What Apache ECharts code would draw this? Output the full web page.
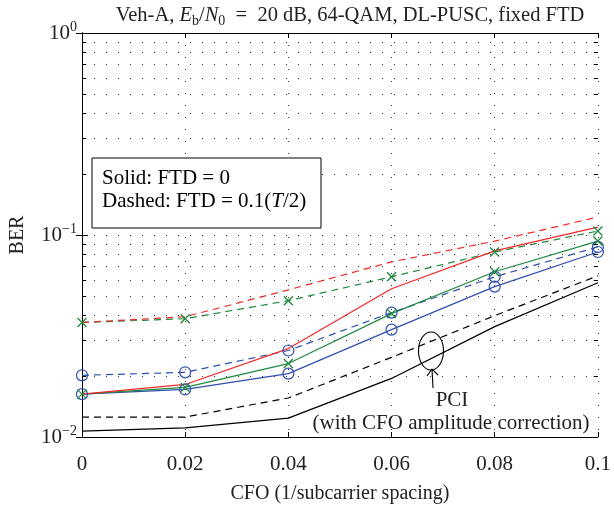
<!DOCTYPE html>
<html>
<head>
<meta charset="utf-8">
<script src="https://cdn.jsdelivr.net/npm/echarts@6/dist/echarts.min.js"></script>
<style>html,body{margin:0;padding:0;background:#fff}#c{width:614px;height:509px}</style>
</head>
<body>
<div id="c"></div>
<script>
var cfo = [0, 0.02, 0.04, 0.06, 0.08, 0.1];
var redSolid    = [0.0163, 0.0182, 0.0274, 0.0542, 0.0834, 0.1094];
var redDashed   = [0.0369, 0.0394, 0.0535, 0.0736, 0.0933, 0.1227];
var greenSolid  = [0.0163, 0.0176, 0.0231, 0.0408, 0.0658, 0.0933];
var greenDashed = [0.0369, 0.0385, 0.0473, 0.0621, 0.0824, 0.1046];
var blueSolid   = [0.0163, 0.0172, 0.0206, 0.0340, 0.0555, 0.0824];
var blueDashed  = [0.0202, 0.0209, 0.0268, 0.0413, 0.0621, 0.0873];
var blackSolid  = [0.0107, 0.0111, 0.0124, 0.0195, 0.0352, 0.0580];
var blackDashed = [0.01255, 0.01255, 0.0156, 0.0248, 0.0399, 0.0628];
var xTicks = [0, 0.02, 0.04, 0.06, 0.08, 0.1];
var xTickLabels = ['0', '0.02', '0.04', '0.06', '0.08', '0.1'];
var yMinorTicks = [0.02, 0.03, 0.04, 0.05, 0.06, 0.07, 0.08, 0.09, 0.2, 0.3, 0.4, 0.5, 0.6, 0.7, 0.8, 0.9];

var FONT = 'Liberation Serif';
var RED = '#f0282a', GREEN = '#1f8a3e', BLUE = '#2f4fb0', BLACK = '#000';
var CROSS = 'path://M0,0L10,10M10,0L0,10';
var dotted = {color: '#333', width: 1, type: [1, 11]};

function pts(arr) { return cfo.map(function (x, i) { return [x, arr[i]]; }); }

function mk(name, arr, color, dashed, marker) {
  var s = {
    name: name, type: 'line', data: pts(arr), xAxisIndex: 0, yAxisIndex: 0,
    lineStyle: {color: color, width: 1.2, type: dashed ? [7, 5] : 'solid'},
    symbol: 'none', animation: false, z: 3
  };
  if (marker === 'x') {
    s.symbol = CROSS; s.symbolSize = 9; s.showSymbol = true;
    s.itemStyle = {color: 'none', borderColor: color, borderWidth: 1.3};
  } else if (marker === 'o') {
    s.symbol = 'circle'; s.symbolSize = 11; s.showSymbol = true;
    s.itemStyle = {color: 'none', borderColor: color, borderWidth: 1.2};
  }
  return s;
}

// minor grid lines and minor ticks (left and right) through the axis scales
var xMin = xTicks[0], xMax = xTicks[xTicks.length - 1];
var tickW = (xMax - xMin) * 0.008;
var minorLines = [];
yMinorTicks.forEach(function (v) {
  minorLines.push({yAxis: v, lineStyle: dotted});
  minorLines.push([{coord: [xMin, v]}, {coord: [xMin + tickW, v], lineStyle: {color: '#000', width: 1, type: 'solid'}}]);
  minorLines.push([{coord: [xMax - tickW, v]}, {coord: [xMax, v], lineStyle: {color: '#000', width: 1, type: 'solid'}}]);
});
var gridSeries = {
  name: 'grid', type: 'line', data: [], xAxisIndex: 0, yAxisIndex: 0, silent: true, z: 1,
  markLine: {silent: true, symbol: ['none', 'none'], label: {show: false}, animation: false,
    lineStyle: {color: '#000', width: 1, type: 'solid'}, emphasis: {disabled: true}, data: minorLines}
};

var chart = echarts.init(document.getElementById('c'), null, {renderer: 'canvas'});
var yLabel = function (v) {
  var e = Math.round(Math.log(v) / Math.LN10);
  return '{b|10}{s|' + (e < 0 ? '\u2212' + (-e) : e) + '}';
};
var yRich = {b: {fontFamily: FONT, fontSize: 21, color: '#222'}, s: {fontFamily: FONT, fontSize: 14, color: '#222', padding: [0, 0, 12, 0]}};

chart.setOption({
  animation: false,
  backgroundColor: '#fff',
  title: {
    left: 345, top: -1, textAlign: 'center',
    text: '{n|Veh-A, }{i|E}{sub|b}{n|/}{i|N}{sub|0}{n|  =  20 dB, 64-QAM, DL-PUSC, fixed FTD}',
    textStyle: {
      fontWeight: 'normal',
      rich: {
        n: {fontFamily: FONT, fontSize: 20.5, fontWeight: 'normal', color: '#222'},
        i: {fontFamily: FONT, fontSize: 20.5, fontWeight: 'normal', fontStyle: 'italic', color: '#222'},
        sub: {fontFamily: FONT, fontSize: 14, fontWeight: 'normal', color: '#222', padding: [10, 0, 0, 0]}
      }
    }
  },
  grid: {left: 82, right: 13, top: 33, bottom: 70, containLabel: false},
  xAxis: [{
    type: 'value', min: 0, max: 0.1, interval: 0.02, position: 'bottom',
    name: 'CFO (1/subcarrier spacing)', nameLocation: 'middle', nameGap: 47,
    nameTextStyle: {fontFamily: FONT, fontSize: 20, color: '#222'},
    axisLine: {lineStyle: {color: '#000', width: 1}},
    axisTick: {inside: true, length: 5, lineStyle: {color: '#000'}},
    axisLabel: {fontFamily: FONT, fontSize: 21, color: '#222', margin: 17,
      formatter: function (v) { var i = xTicks.indexOf(Math.round(v * 100) / 100); return i >= 0 ? xTickLabels[i] : ''; }},
    splitLine: {show: true, lineStyle: dotted}
  }, {
    type: 'value', min: 0, max: 0.1, interval: 0.02, position: 'top',
    axisLine: {show: true, lineStyle: {color: '#000', width: 1}},
    axisTick: {inside: true, length: 5, lineStyle: {color: '#000'}},
    axisLabel: {show: false}, splitLine: {show: false}
  }],
  yAxis: [{
    type: 'log', logBase: 10, min: 0.01, max: 1, interval: 1,
    name: 'BER', nameLocation: 'middle', nameGap: 54,
    nameTextStyle: {fontFamily: FONT, fontSize: 20, color: '#222'},
    axisLine: {show: true, lineStyle: {color: '#000', width: 1}},
    axisTick: {show: true, inside: true, length: 6, lineStyle: {color: '#000'}},
    axisLabel: {formatter: yLabel, rich: yRich, margin: 5},
    splitLine: {show: true, lineStyle: dotted}
  }, {
    type: 'log', logBase: 10, min: 0.01, max: 1, interval: 1, position: 'right',
    axisLine: {show: true, lineStyle: {color: '#000', width: 1}},
    axisTick: {show: true, inside: true, length: 6, lineStyle: {color: '#000'}},
    axisLabel: {show: false}, splitLine: {show: false}
  }],
  series: [
    gridSeries,
    mk('blackSolid', blackSolid, BLACK, false, null),
    mk('blackDashed', blackDashed, BLACK, true, null),
    mk('blueSolid', blueSolid, BLUE, false, 'o'),
    mk('blueDashed', blueDashed, BLUE, true, 'o'),
    mk('greenSolid', greenSolid, GREEN, false, 'x'),
    mk('greenDashed', greenDashed, GREEN, true, 'x'),
    mk('redSolid', redSolid, RED, false, null),
    mk('redDashed', redDashed, RED, true, null)
  ],
  graphic: [
    {type: 'rect', shape: {x: 92, y: 158, width: 229, height: 70}, style: {fill: '#fff', stroke: '#000', lineWidth: 1}, z: 10},
    {type: 'text', left: 102, top: 168, z: 11, style: {
      text: '{n|Solid: FTD = 0}\n{n|Dashed: FTD = 0.1(}{i|T}{n|/2)}',
      rich: {n: {fontFamily: FONT, fontSize: 21, color: '#222', lineHeight: 23},
             i: {fontFamily: FONT, fontSize: 21, fontStyle: 'italic', color: '#222', lineHeight: 23}}}},
    {type: 'ellipse', shape: {cx: 431, cy: 351, rx: 12.5, ry: 19}, style: {fill: 'none', stroke: '#000', lineWidth: 1.1}, z: 10},
    {type: 'polyline', shape: {points: [[433, 388], [432, 369]]}, style: {stroke: '#000', lineWidth: 1.1, fill: 'none'}, z: 10},
    {type: 'polyline', shape: {points: [[427, 376], [432, 369], [438, 375]]}, style: {stroke: '#000', lineWidth: 1.1, fill: 'none'}, z: 10},
    {type: 'text', x: 452, y: 400, z: 11, style: {text: 'PCI', fontFamily: FONT, fontSize: 21, fill: '#222', align: 'center', verticalAlign: 'middle'}},
    {type: 'text', x: 451, y: 423, z: 11, style: {text: '(with CFO amplitude correction)', fontFamily: FONT, fontSize: 21, fill: '#222', align: 'center', verticalAlign: 'middle'}}
  ]
});
</script>
</body>
</html>
